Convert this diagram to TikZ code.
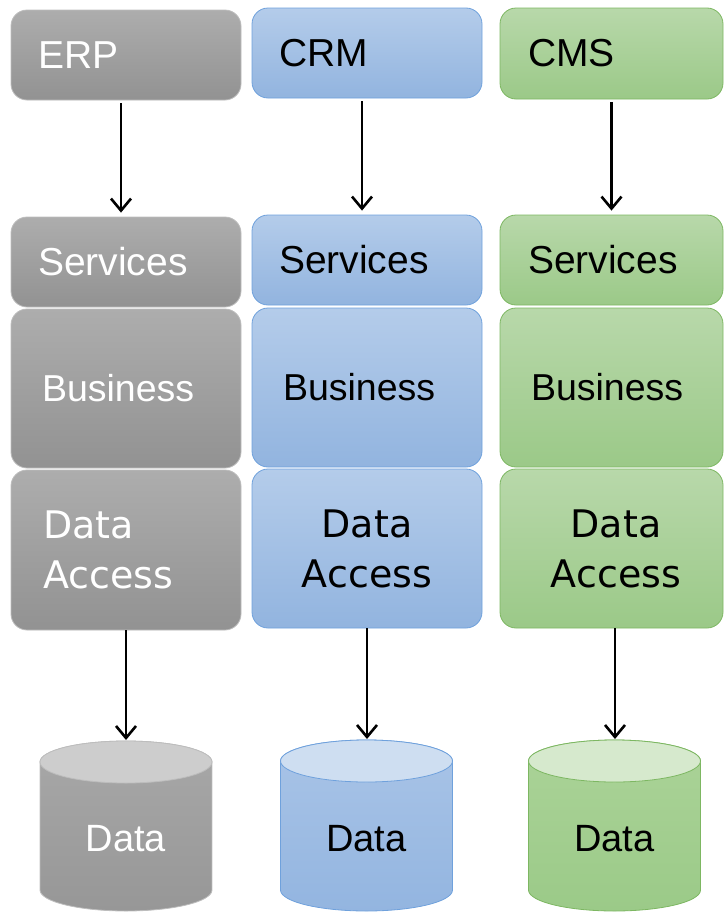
\documentclass[tikz,border=0pt]{standalone}
\usepackage{fontspec}
\setmainfont{Liberation Sans}
\newfontfamily\dafont{DejaVu Sans}
\usetikzlibrary{arrows.meta}
\definecolor{gtop}{HTML}{ADADAD}
\definecolor{gbot}{HTML}{929292}
\definecolor{gline}{HTML}{BDBDBD}
\definecolor{btop}{HTML}{B4CCEA}
\definecolor{bbot}{HTML}{92B4DF}
\definecolor{bline}{HTML}{6FA1DC}
\definecolor{ntop}{HTML}{B8D8AA}
\definecolor{nbot}{HTML}{9BC988}
\definecolor{nline}{HTML}{7DB762}
\definecolor{gcap}{HTML}{CDCDCD}
\definecolor{bcap}{HTML}{CEDEF1}
\definecolor{ncap}{HTML}{D6E9CD}
\definecolor{gbody}{HTML}{A8A8A8}
\definecolor{gbody2}{HTML}{979797}
\definecolor{bbody}{HTML}{A9C4E7}
\definecolor{bbody2}{HTML}{93B5E0}
\definecolor{nbody}{HTML}{ABD398}
\definecolor{nbody2}{HTML}{9BCA88}
\tikzset{
  layerbox/.style={rectangle, rounded corners=16pt, line width=0.8pt, font=\fontsize{39}{44}\selectfont, inner ysep=0pt},
  graybox/.style={layerbox, draw=gline, top color=gtop, bottom color=gbot, text=white},
  bluebox/.style={layerbox, draw=bline, top color=btop, bottom color=bbot, text=black},
  greenbox/.style={layerbox, draw=nline, top color=ntop, bottom color=nbot, text=black},
  lefttext/.style={align=left, inner xsep=#1},
  busfont/.style={font=\fontsize{37.5}{44}\selectfont},
  dabox/.style={font=\dafont\fontsize{38}{50}\selectfont},
  conn/.style={line width=2.6pt, -{Straight Barb[length=12pt,width=20pt,line width=2.6pt]}},
  cyltext/.style={font=\fontsize{38}{44}\selectfont},
}
\begin{document}
\begin{tikzpicture}[x=1pt,y=-1pt]
\useasboundingbox (0,0) rectangle (724,913);
% ---------- gray column ----------
\node[graybox, lefttext=27pt, text width=176pt, minimum width=230pt, minimum height=90pt] (erp) at (126,55) {ERP};
\node[graybox, lefttext=27pt, text width=176pt, minimum width=230pt, minimum height=90pt] (svc1) at (126,262) {Services};
\node[graybox, busfont, lefttext=31pt, text width=168pt, minimum width=230pt, minimum height=159pt] (bus1) at (126,388.5) {Business};
\node[graybox, dabox, lefttext=32pt, text width=166pt, minimum width=230pt, minimum height=160pt] (da1) at (126,550) {Data\\Access};
% ---------- blue column ----------
\node[bluebox, lefttext=27pt, text width=176pt, minimum width=230pt, minimum height=90pt] (crm) at (367,53) {CRM};
\node[bluebox, lefttext=27pt, text width=176pt, minimum width=230pt, minimum height=90pt] (svc2) at (367,260) {Services};
\node[bluebox, busfont, lefttext=31pt, text width=168pt, minimum width=230pt, minimum height=159pt] (bus2) at (367,387.5) {Business};
\node[bluebox, dabox, align=center, minimum width=230pt, minimum height=159pt] (da2) at (367,548.5) {Data\\Access};
% ---------- green column ----------
\node[greenbox, lefttext=28pt, text width=167pt, minimum width=223pt, minimum height=91pt] (cms) at (611.5,53.5) {CMS};
\node[greenbox, lefttext=28pt, text width=167pt, minimum width=223pt, minimum height=90pt] (svc3) at (611.5,260) {Services};
\node[greenbox, busfont, lefttext=31pt, text width=161pt, minimum width=223pt, minimum height=159pt] (bus3) at (611.5,387.5) {Business};
\node[greenbox, minimum width=223pt, minimum height=159pt] (da3) at (611.5,548.5) {};
\node[dabox, align=center, text=black, inner sep=0pt] (da3t) at (616,548.5) {Data\\Access};
% ---------- cylinders ----------
\path[draw=gline, line width=0.8pt, top color=gbody, bottom color=gbody2]
  (40,762) -- (40,890) arc[start angle=180,end angle=360,x radius=86pt,y radius=21pt] -- (212,762)
  arc[start angle=0,end angle=180,x radius=86pt,y radius=21pt] -- cycle;
\draw[draw=gline, line width=0.8pt, fill=gcap] (126,762) ellipse[x radius=86pt,y radius=21pt];
\node[cyltext, text=white] (db1) at (126,839) {Data};
\coordinate (db1top) at (126,741);

\path[draw=bline, line width=0.8pt, top color=bbody, bottom color=bbody2]
  (280.5,761) -- (280.5,890) arc[start angle=180,end angle=360,x radius=86pt,y radius=21pt] -- (452.5,761)
  arc[start angle=0,end angle=180,x radius=86pt,y radius=21pt] -- cycle;
\draw[draw=bline, line width=0.8pt, fill=bcap] (366.5,761) ellipse[x radius=86pt,y radius=21pt];
\node[cyltext, text=black] (db2) at (366.5,839) {Data};
\coordinate (db2top) at (367,740);

\path[draw=nline, line width=0.8pt, top color=nbody, bottom color=nbody2]
  (528.5,761) -- (528.5,890) arc[start angle=180,end angle=360,x radius=86pt,y radius=21pt] -- (700.5,761)
  arc[start angle=0,end angle=180,x radius=86pt,y radius=21pt] -- cycle;
\draw[draw=nline, line width=0.8pt, fill=ncap] (614.5,761) ellipse[x radius=86pt,y radius=21pt];
\node[cyltext, text=black] (db3) at (614.5,839) {Data};
\coordinate (db3top) at (615,740);
% ---------- connectors ----------
\draw[conn] ([xshift=-5pt,yshift=-3pt]erp.south) -- ([xshift=-5pt,yshift=4pt]svc1.north);
\draw[conn] ([xshift=-5pt,yshift=-3pt]crm.south) -- ([xshift=-5pt,yshift=4pt]svc2.north);
\draw[conn] ([yshift=-3pt]cms.south) -- ([yshift=4pt]svc3.north);
\draw[conn] (da1.south) -- ([yshift=1pt]db1top);
\draw[conn] (da2.south) -- ([yshift=1pt]db2top);
\draw[conn] ([xshift=3.5pt]da3.south) -- ([yshift=1pt]db3top);
\end{tikzpicture}
\end{document}
